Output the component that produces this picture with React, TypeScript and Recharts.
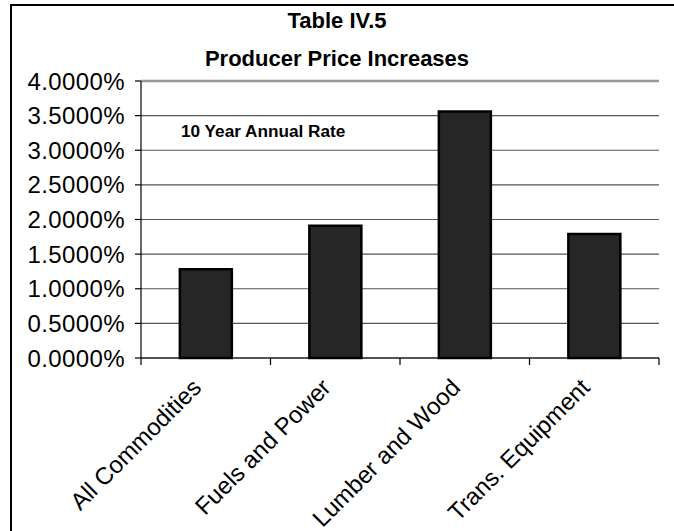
import React from "react";
import { BarChart, Bar, XAxis, YAxis, CartesianGrid, ReferenceLine } from "recharts";

const categories = ["All Commodities", "Fuels and Power", "Lumber and Wood", "Trans. Equipment"];
const rateValues = [1.28, 1.91, 3.56, 1.79];
const yTicks = [0, 0.5, 1, 1.5, 2, 2.5, 3, 3.5, 4];
const titleLines = ["Table IV.5", "Producer Price Increases"];
const annotation = "10 Year Annual Rate";

const data = categories.map((c, i) => ({ name: c, value: rateValues[i] }));

const FONT = "'Liberation Sans', Arial, Helvetica, sans-serif";

const XTick = (props: any) => {
  const { x, y, payload, index, visibleTicksCount } = props;
  const off = payload && payload.offset ? payload.offset : 64.6;
  const axisY = y - 8;
  const isLast = index === (visibleTicksCount ?? categories.length) - 1;
  const px = x - 3;
  const py = axisY + 31;
  return (
    <g>
      <line x1={x - off} x2={x - off} y1={axisY} y2={axisY + 7} stroke="#000" strokeWidth={1.2} />
      {isLast && (
        <line x1={x + off} x2={x + off} y1={axisY} y2={axisY + 7} stroke="#000" strokeWidth={1.2} />
      )}
      <text
        x={px}
        y={py}
        transform={`rotate(-45, ${px}, ${py})`}
        textAnchor="end"
        fontFamily={FONT}
        fontSize={24}
        fill="#000"
      >
        {payload.value}
      </text>
    </g>
  );
};

export default function App() {
  return (
    <div style={{ position: "absolute", left: 0, top: 0, width: 674, height: 531, overflow: "hidden", background: "#fff" }}>
      <div
        style={{
          position: "absolute",
          left: 10,
          top: 4,
          width: 700,
          height: 600,
          border: "2px solid #000",
          boxSizing: "border-box",
        }}
      />
      <svg style={{ position: "absolute", left: 0, top: 0 }} width={674} height={80}>
        <text x={337} y={28} textAnchor="middle" fontFamily={FONT} fontWeight="bold" fontSize={22} fill="#000">
          {titleLines[0]}
        </text>
        <text x={337} y={66} textAnchor="middle" fontFamily={FONT} fontWeight="bold" fontSize={22} fill="#000">
          {titleLines[1]}
        </text>
      </svg>
      <div style={{ position: "absolute", left: 0, top: 0 }}>
        <BarChart
          width={674}
          height={531}
          data={data}
          margin={{ top: 81, right: 15, bottom: 0, left: 0 }}
          barCategoryGap="30%"
        >
          <CartesianGrid vertical={false} stroke="#555" strokeWidth={1.2} />
          <XAxis
            dataKey="name"
            height={173}
            axisLine={{ stroke: "#000", strokeWidth: 1.2 }}
            tickLine={false}
            tick={<XTick />}
            interval={0}
          />
          <YAxis
            domain={[0, 4]}
            ticks={yTicks}
            width={141}
            axisLine={{ stroke: "#000", strokeWidth: 1.2 }}
            tickLine={{ stroke: "#000", strokeWidth: 1.2 }}
            tickSize={6}
            tickMargin={10}
            tickFormatter={(v: number) => v.toFixed(4) + "%"}
            tick={{ fontFamily: FONT, fontSize: 24, fill: "#000", letterSpacing: 0.4 }}
          />
          <YAxis
            yAxisId="right"
            orientation="right"
            domain={[0, 4]}
            width={0}
            tick={false}
            tickLine={false}
            axisLine={{ stroke: "#999", strokeWidth: 2.5 }}
          />
          <ReferenceLine y={4} stroke="#999" strokeWidth={2.5} />
          <Bar dataKey="value" fill="#262626" stroke="#000" strokeWidth={2.5} isAnimationActive={false} />
        </BarChart>
      </div>
      <svg style={{ position: "absolute", left: 0, top: 0, pointerEvents: "none" }} width={674} height={531}>
        <text x={181} y={137} fontFamily={FONT} fontWeight="bold" fontSize={17.2} fill="#000">
          {annotation}
        </text>
      </svg>
    </div>
  );
}
